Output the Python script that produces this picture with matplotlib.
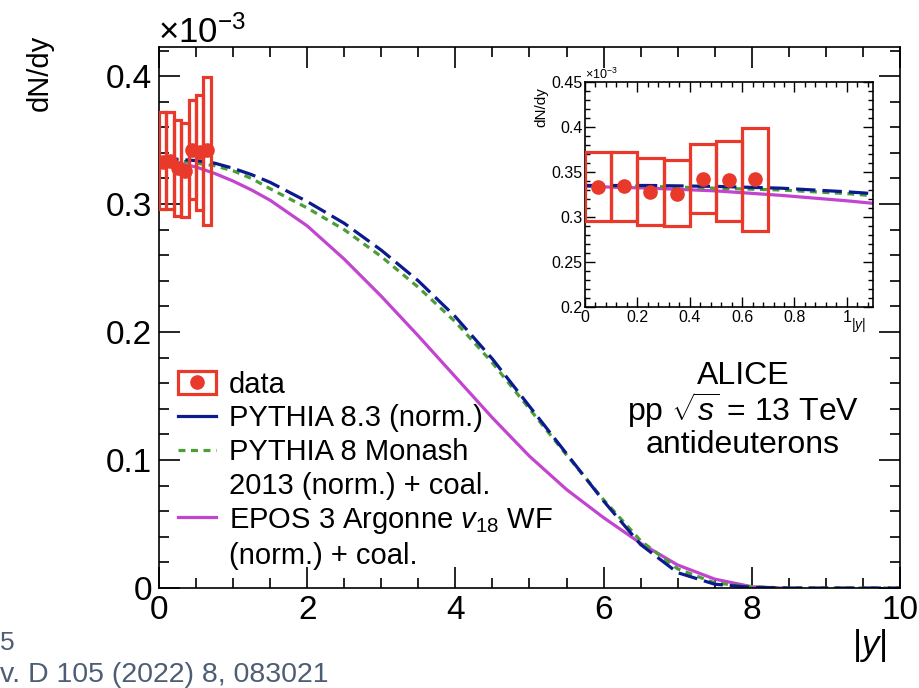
import matplotlib
matplotlib.use("Agg")
import matplotlib.pyplot as plt
from matplotlib.lines import Line2D
from matplotlib.patches import Rectangle
from matplotlib.legend_handler import HandlerTuple
from matplotlib.ticker import MultipleLocator, FuncFormatter

plt.rcParams["font.family"] = ["Liberation Sans", "DejaVu Sans"]
plt.rcParams["mathtext.fontset"] = "custom"
plt.rcParams["mathtext.rm"] = "Liberation Sans"
plt.rcParams["mathtext.it"] = "Liberation Sans:italic"
plt.rcParams["lines.scale_dashes"] = False

# data points (dN/dy in units of 1e-3), bins of width 0.1 in |y|
y_bins = [0.05, 0.15, 0.25, 0.35, 0.45, 0.55, 0.65]
bin_width = 0.1
dndy = [0.333, 0.334, 0.328, 0.326, 0.342, 0.341, 0.342]
sys_lo = [0.296, 0.296, 0.291, 0.290, 0.304, 0.295, 0.284]
sys_hi = [0.372, 0.372, 0.366, 0.363, 0.381, 0.385, 0.399]

# model curves
model_y = [0, 0.25, 0.5, 0.75, 1.0, 1.25, 1.5, 2.0, 2.5, 3.0, 3.5, 4.0, 4.5,
           5.0, 5.5, 6.0, 6.5, 7.0, 7.5, 8.0, 8.5, 9.0, 9.5, 10.0]
pythia83 = [0.335, 0.335, 0.334, 0.332, 0.328, 0.323, 0.317, 0.302, 0.285, 0.264,
            0.240, 0.212, 0.179, 0.142, 0.105, 0.068, 0.034, 0.012, 0.003, 0.0005,
            0, 0, 0, 0]
monash = [0.335, 0.334, 0.332, 0.330, 0.326, 0.320, 0.312, 0.297, 0.280, 0.259,
          0.235, 0.208, 0.176, 0.140, 0.104, 0.069, 0.037, 0.015, 0.004, 0.001,
          0, 0, 0, 0]
epos_y = [0, 0.25, 0.5, 0.75, 1.0, 1.25, 1.5, 2.0, 2.5, 3.0, 3.5, 4.0, 4.5,
          5.0, 5.5, 6.0, 6.5, 7.0, 7.5, 8.0, 8.4]
epos = [0.334, 0.332, 0.329, 0.324, 0.318, 0.311, 0.303, 0.283, 0.257, 0.228,
        0.197, 0.165, 0.133, 0.103, 0.077, 0.055, 0.035, 0.018, 0.007, 0.001, 0.0]

red = "#e8392a"
blue = "#0b1a8e"
green = "#4c9f36"
magenta = "#c244cf"


def draw(ax, lw, ms):
    ax.bar(y_bins, [h - l for h, l in zip(sys_hi, sys_lo)], bottom=sys_lo,
           width=bin_width, fill=False, edgecolor=red, linewidth=lw, zorder=3)
    ax.plot(epos_y, epos, color=magenta, lw=lw, zorder=2)
    ax.plot(model_y, monash, color=green, lw=lw, dashes=(5, 4), zorder=2)
    ax.plot(model_y, pythia83, color=blue, lw=lw, dashes=(14, 5), zorder=2)
    ax.plot(y_bins, dndy, "o", color=red, ms=ms, zorder=4)


fig = plt.figure(figsize=(9.2, 6.88), dpi=100)

ax = fig.add_axes([0.1728, 0.1453, 0.8054, 0.7863])
draw(ax, 2.3, 9.5)
ax.set_xlim(0, 10)
ax.set_ylim(0, 0.4227)
ax.xaxis.set_major_locator(MultipleLocator(2))
ax.xaxis.set_minor_locator(MultipleLocator(0.5))
ax.yaxis.set_major_locator(MultipleLocator(0.1))
ax.yaxis.set_minor_locator(MultipleLocator(0.02))
ax.yaxis.set_major_formatter(FuncFormatter(lambda v, p: "%g" % round(v, 3)))
ax.tick_params(which="both", direction="in", top=True, right=True, width=1.2)
ax.tick_params(which="major", length=15, labelsize=24, pad=5)
ax.tick_params(which="minor", length=7.5)
for s in ax.spines.values():
    s.set_linewidth(1.2)

# legend
data_h = (Rectangle((0, 0), 1, 1, fill=False, edgecolor=red, lw=2.3),
          Line2D([], [], ls="none", marker="o", color=red, ms=9.5))
blank = Line2D([], [], ls="none")
handles = [data_h,
           Line2D([], [], color=blue, lw=2.3),
           Line2D([], [], color=green, lw=2.3, dashes=(5, 4)),
           blank,
           Line2D([], [], color=magenta, lw=2.3),
           blank]
labels = ["data", "PYTHIA 8.3 (norm.)", "PYTHIA 8 Monash",
          "2013 (norm.) + coal.", r"EPOS 3 Argonne $v_{18}$ WF",
          "(norm.) + coal."]
ax.legend(handles, labels, loc="upper left", bbox_to_anchor=(0.0256, 0.402),
          frameon=False, fontsize=21, handlelength=1.3, handleheight=0.8,
          handletextpad=0.45, labelspacing=0.2, borderpad=0, borderaxespad=0,
          handler_map={tuple: HandlerTuple(ndivide=1)})

fig.text(743 / 920, 1 - 376 / 688, "ALICE", ha="center", va="center", fontsize=23)
fig.text(743 / 920, 1 - 410 / 688, r"pp $\sqrt{s}$ = 13 TeV", ha="center",
         va="center", fontsize=23)
fig.text(743 / 920, 1 - 445 / 688, "antideuterons", ha="center", va="center",
         fontsize=23)

fig.text(40 / 920, 1 - 35 / 688, "dN/dy", rotation=90, ha="center", va="top",
         fontsize=21)
fig.text(158 / 920, 1 - 43 / 688, r"$\times$10$^{-3}$", ha="left",
         va="baseline", fontsize=25)
fig.text(886 / 920, 1 - 655 / 688, r"|$y$|", ha="right", va="baseline",
         fontsize=25)

# slide reference text at the lower left
slate = "#4d5d75"
fig.text(0.0, 1 - 650 / 688, "5", ha="left", va="baseline", fontsize=19,
         color=slate)
fig.text(0.0, 1 - 682 / 688, "v. D 105 (2022) 8, 083021", ha="left",
         va="baseline", fontsize=20.5, color=slate)

# inset
ax2 = fig.add_axes([0.6359, 0.5538, 0.3130, 0.3270])
draw(ax2, 2.3, 9.5)
ax2.set_xlim(0, 1.1)
ax2.set_ylim(0.2, 0.45)
ax2.xaxis.set_major_locator(MultipleLocator(0.2))
ax2.xaxis.set_minor_locator(MultipleLocator(0.04))
ax2.yaxis.set_major_locator(MultipleLocator(0.05))
ax2.yaxis.set_minor_locator(MultipleLocator(0.01))
ax2.xaxis.set_major_formatter(FuncFormatter(lambda v, p: "%g" % round(v, 3)))
ax2.yaxis.set_major_formatter(FuncFormatter(lambda v, p: "%g" % round(v, 3)))
ax2.tick_params(which="both", direction="in", top=True, right=True, width=1)
ax2.tick_params(which="major", length=7, labelsize=11.5, pad=2)
ax2.tick_params(which="minor", length=3.5)
for s in ax2.spines.values():
    s.set_linewidth(1.2)

fig.text(541 / 920, 1 - 87 / 688, "dN/dy", rotation=90, ha="center", va="top",
         fontsize=11)
fig.text(585 / 920, 1 - 79 / 688, r"$\times$10$^{-3}$", ha="left",
         va="baseline", fontsize=9)
fig.text(866 / 920, 1 - 329 / 688, r"|$y$|", ha="right", va="baseline",
         fontsize=10)

fig.savefig("out.png", dpi=100)
